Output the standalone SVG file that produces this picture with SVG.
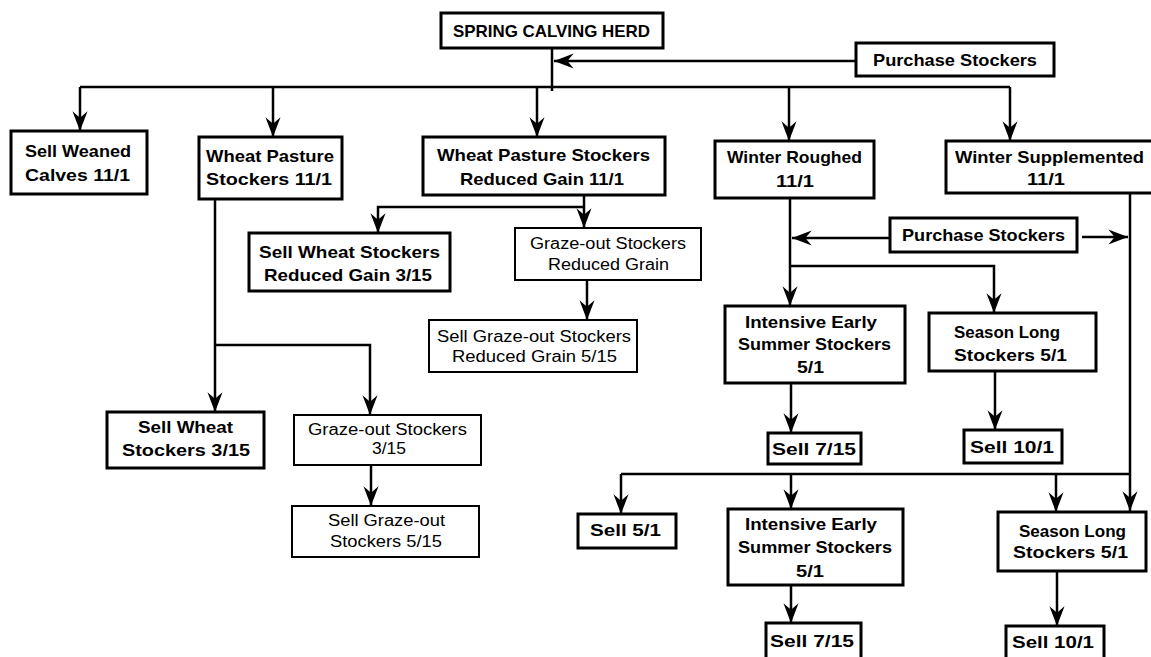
<svg xmlns="http://www.w3.org/2000/svg" width="1151" height="657" viewBox="0 0 1151 657">
<style>
.box{fill:#fff;stroke:#000;stroke-width:3}
.thin{stroke-width:2}
.b{font-family:"Liberation Sans",Arial,sans-serif;font-weight:bold;font-size:17px;fill:#000}
.r{font-family:"Liberation Sans",Arial,sans-serif;font-size:16px;fill:#000}
.c{fill:none;stroke:#000;stroke-width:2.5}
</style>
<defs>
<marker id="ah" markerUnits="userSpaceOnUse" markerWidth="22" markerHeight="20" viewBox="-18 -8 19 16" refX="0" refY="0" orient="auto">
<path d="M0,0 L-17,-6.5 L-11.5,0 L-17,6.5 Z" fill="#000"/>
</marker>
</defs>
<rect width="1151" height="657" fill="#fff"/>
<g id="connectors">
<path class="c" d="M552,48 V91"/>
<path class="c" d="M856,61 H554" marker-end="url(#ah)"/>
<path class="c" d="M80,87 H1010"/>
<path class="c" d="M80,87 V131" marker-end="url(#ah)"/>
<path class="c" d="M273,87 V137" marker-end="url(#ah)"/>
<path class="c" d="M537,87 V137" marker-end="url(#ah)"/>
<path class="c" d="M789,87 V141" marker-end="url(#ah)"/>
<path class="c" d="M1010,87 V141" marker-end="url(#ah)"/>
<path class="c" d="M584,195 V228" marker-end="url(#ah)"/>
<path class="c" d="M584,207 H378 V233" marker-end="url(#ah)"/>
<path class="c" d="M587,280 V320" marker-end="url(#ah)"/>
<path class="c" d="M215,199 V412" marker-end="url(#ah)"/>
<path class="c" d="M215,345 H370 V415" marker-end="url(#ah)"/>
<path class="c" d="M371,465 V506" marker-end="url(#ah)"/>
<path class="c" d="M790,198 V306" marker-end="url(#ah)"/>
<path class="c" d="M890,238 H792" marker-end="url(#ah)"/>
<path class="c" d="M790,266 H994 V313" marker-end="url(#ah)"/>
<path class="c" d="M1082,237 H1128" marker-end="url(#ah)"/>
<path class="c" d="M1130,193 V511" marker-end="url(#ah)"/>
<path class="c" d="M791,383 V433" marker-end="url(#ah)"/>
<path class="c" d="M995,371 V430" marker-end="url(#ah)"/>
<path class="c" d="M621,474 H1130"/>
<path class="c" d="M621,474 V514" marker-end="url(#ah)"/>
<path class="c" d="M791,474 V509" marker-end="url(#ah)"/>
<path class="c" d="M1056,474 V512" marker-end="url(#ah)"/>
<path class="c" d="M791,585 V623" marker-end="url(#ah)"/>
<path class="c" d="M1057,571 V626" marker-end="url(#ah)"/>
</g>
<g id="herd"><rect class="box" x="441" y="13" width="222" height="35"/><text class="b" x="453" y="37" textLength="197" lengthAdjust="spacingAndGlyphs" font-size="16">SPRING CALVING HERD</text></g>
<g id="purchase1"><rect class="box" x="856" y="43" width="198" height="33"/><text class="b" x="873" y="66" textLength="164" lengthAdjust="spacingAndGlyphs">Purchase Stockers</text></g>
<g id="sellWeaned"><rect class="box" x="11" y="131" width="136" height="63"/><text class="b" x="25" y="157" textLength="106" lengthAdjust="spacingAndGlyphs">Sell Weaned</text><text class="b" x="25" y="181" textLength="105" lengthAdjust="spacingAndGlyphs">Calves 11/1</text></g>
<g id="wheatPasture"><rect class="box" x="199" y="137" width="143" height="62"/><text class="b" x="206" y="162" textLength="128" lengthAdjust="spacingAndGlyphs">Wheat Pasture</text><text class="b" x="206" y="185" textLength="126" lengthAdjust="spacingAndGlyphs">Stockers 11/1</text></g>
<g id="wpsReduced"><rect class="box" x="423" y="137" width="242" height="58"/><text class="b" x="437" y="161" textLength="213" lengthAdjust="spacingAndGlyphs">Wheat Pasture Stockers</text><text class="b" x="460" y="185" textLength="164" lengthAdjust="spacingAndGlyphs">Reduced Gain 11/1</text></g>
<g id="winterRoughed"><rect class="box" x="715" y="141" width="159" height="57"/><text class="b" x="727" y="163" textLength="135" lengthAdjust="spacingAndGlyphs">Winter Roughed</text><text class="b" x="776" y="187" textLength="38" lengthAdjust="spacingAndGlyphs">11/1</text></g>
<g id="winterSupp"><rect class="box" x="946" y="141" width="210" height="52"/><text class="b" x="955" y="163" textLength="189" lengthAdjust="spacingAndGlyphs">Winter Supplemented</text><text class="b" x="1027" y="185" textLength="38" lengthAdjust="spacingAndGlyphs">11/1</text></g>
<g id="sellWheatReduced"><rect class="box" x="249" y="233" width="201" height="58"/><text class="b" x="259" y="258" textLength="181" lengthAdjust="spacingAndGlyphs">Sell Wheat Stockers</text><text class="b" x="264" y="281" textLength="168" lengthAdjust="spacingAndGlyphs">Reduced Gain 3/15</text></g>
<g id="grazeReduced"><rect class="box thin" x="515" y="228" width="186" height="52"/><text class="r" x="530" y="249" textLength="156" lengthAdjust="spacingAndGlyphs">Graze-out Stockers</text><text class="r" x="548" y="270" textLength="121" lengthAdjust="spacingAndGlyphs">Reduced Grain</text></g>
<g id="sellGrazeReduced"><rect class="box thin" x="429" y="320" width="208" height="52"/><text class="r" x="437" y="342" textLength="194" lengthAdjust="spacingAndGlyphs">Sell Graze-out Stockers</text><text class="r" x="452" y="362" textLength="165" lengthAdjust="spacingAndGlyphs">Reduced Grain 5/15</text></g>
<g id="purchase2"><rect class="box" x="890" y="218" width="187" height="34"/><text class="b" x="902" y="241" textLength="163" lengthAdjust="spacingAndGlyphs">Purchase Stockers</text></g>
<g id="intensive1"><rect class="box" x="725" y="306" width="180" height="77"/><text class="b" x="745" y="328" textLength="132" lengthAdjust="spacingAndGlyphs">Intensive Early</text><text class="b" x="738" y="350" textLength="153" lengthAdjust="spacingAndGlyphs">Summer Stockers</text><text class="b" x="797" y="373" textLength="27" lengthAdjust="spacingAndGlyphs">5/1</text></g>
<g id="season1"><rect class="box" x="929" y="313" width="167" height="58"/><text class="b" x="954" y="338" textLength="106" lengthAdjust="spacingAndGlyphs">Season Long</text><text class="b" x="954" y="361" textLength="113" lengthAdjust="spacingAndGlyphs">Stockers 5/1</text></g>
<g id="sellWheat"><rect class="box" x="107" y="412" width="157" height="56"/><text class="b" x="138" y="433" textLength="95" lengthAdjust="spacingAndGlyphs">Sell Wheat</text><text class="b" x="122" y="456" textLength="128" lengthAdjust="spacingAndGlyphs">Stockers 3/15</text></g>
<g id="graze315"><rect class="box thin" x="294" y="415" width="187" height="50"/><text class="r" x="308" y="435" textLength="159" lengthAdjust="spacingAndGlyphs">Graze-out Stockers</text><text class="r" x="372" y="454" textLength="34" lengthAdjust="spacingAndGlyphs">3/15</text></g>
<g id="sellGraze515"><rect class="box thin" x="292" y="506" width="187" height="51"/><text class="r" x="328" y="526" textLength="117" lengthAdjust="spacingAndGlyphs">Sell Graze-out</text><text class="r" x="330" y="547" textLength="112" lengthAdjust="spacingAndGlyphs">Stockers 5/15</text></g>
<g id="sell715a"><rect class="box" x="768" y="433" width="93" height="31"/><text class="b" x="772" y="455" textLength="84" lengthAdjust="spacingAndGlyphs">Sell 7/15</text></g>
<g id="sell101a"><rect class="box" x="964" y="430" width="98" height="33"/><text class="b" x="970" y="453" textLength="84" lengthAdjust="spacingAndGlyphs">Sell 10/1</text></g>
<g id="sell51"><rect class="box" x="578" y="514" width="98" height="34"/><text class="b" x="590" y="536" textLength="71" lengthAdjust="spacingAndGlyphs">Sell 5/1</text></g>
<g id="intensive2"><rect class="box" x="728" y="509" width="175" height="76"/><text class="b" x="745" y="530" textLength="132" lengthAdjust="spacingAndGlyphs">Intensive Early</text><text class="b" x="738" y="553" textLength="154" lengthAdjust="spacingAndGlyphs">Summer Stockers</text><text class="b" x="796" y="577" textLength="28" lengthAdjust="spacingAndGlyphs">5/1</text></g>
<g id="season2"><rect class="box" x="998" y="512" width="148" height="59"/><text class="b" x="1019" y="537" textLength="107" lengthAdjust="spacingAndGlyphs">Season Long</text><text class="b" x="1013" y="558" textLength="115" lengthAdjust="spacingAndGlyphs">Stockers 5/1</text></g>
<g id="sell715b"><rect class="box" x="766" y="623" width="95" height="40"/><text class="b" x="770" y="647" textLength="84" lengthAdjust="spacingAndGlyphs">Sell 7/15</text></g>
<g id="sell101b"><rect class="box" x="1006" y="626" width="98" height="37"/><text class="b" x="1012" y="648" textLength="82" lengthAdjust="spacingAndGlyphs">Sell 10/1</text></g>
</svg>
